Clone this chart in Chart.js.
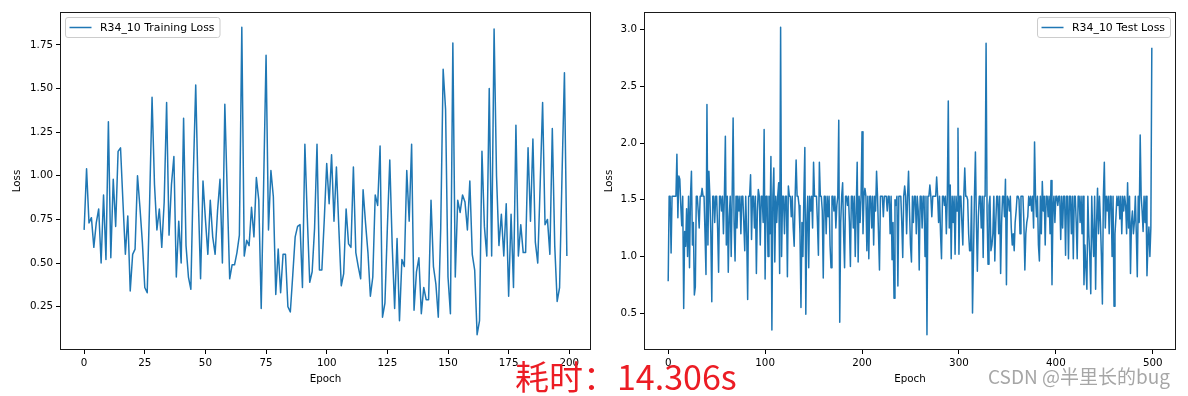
<!DOCTYPE html>
<html><head><meta charset="utf-8">
<script src="https://cdn.jsdelivr.net/npm/chart.js@4.4.1/dist/chart.umd.min.js"></script>
<style>
html,body{margin:0;padding:0;background:#fff;width:1188px;height:396px;overflow:hidden;}
body{position:relative;}
#w1{position:absolute;left:0;top:0;width:600px;height:396px;}
#w2{position:absolute;left:600px;top:0;width:588px;height:396px;}
#timeText{position:absolute;left:515px;top:356px;font-family:"Noto Sans CJK SC";font-size:34px;line-height:40px;color:#ec1c24;white-space:nowrap;}
#wm{position:absolute;left:988px;top:363px;font-family:"Noto Sans CJK SC";font-size:19px;line-height:26px;color:rgba(150,150,150,0.85);white-space:nowrap;}
</style></head>
<body>
<div id="w1"><canvas id="c1" width="600" height="396"></canvas></div>
<div id="w2"><canvas id="c2" width="588" height="396"></canvas></div>
<div id="timeText">耗时：14.306s</div>
<div id="wm">CSDN @半里长的bug</div>
<script>
// ---------- data ----------
const trainLabel = "R34_10 Training Loss";
const testLabel = "R34_10 Test Loss";
const xTitle = "Epoch";
const yTitle = "Loss";

const trainLoss = [
0.69,1.04,0.73,0.76,0.59,0.73,0.81,0.50,0.89,0.52,
1.31,0.53,0.98,0.71,1.14,1.16,0.85,0.55,0.77,0.34,
0.55,0.58,1.00,0.82,0.62,0.36,0.33,0.85,1.45,0.95,
0.69,0.81,0.59,0.85,1.42,0.66,0.95,1.11,0.42,0.74,
0.50,1.33,0.60,0.42,0.35,1.00,1.52,0.90,0.41,0.97,
0.75,0.55,0.86,0.65,0.55,0.80,0.98,0.50,1.41,0.90,
0.41,0.49,0.49,0.56,0.66,1.85,0.54,0.63,0.60,0.82,
0.65,0.99,0.86,0.24,0.95,1.69,0.69,1.03,0.88,0.32,
0.58,0.33,0.55,0.55,0.25,0.22,0.43,0.65,0.71,0.72,
0.36,1.18,0.76,0.39,0.45,0.70,1.18,0.46,0.46,0.75,
1.07,0.84,1.12,0.74,1.05,0.70,0.37,0.44,0.81,0.61,
0.59,1.05,0.56,0.48,0.41,0.92,0.73,0.56,0.31,0.42,
0.89,0.83,1.17,0.19,0.27,0.70,1.09,0.60,0.24,0.64,
0.17,0.52,0.48,1.03,0.74,1.18,0.23,0.45,0.53,0.21,
0.36,0.29,0.29,0.86,0.48,0.38,0.19,0.70,1.61,1.38,
0.42,0.21,1.76,0.42,0.86,0.79,0.89,0.85,0.69,0.97,
0.55,0.46,0.09,0.17,1.14,0.71,0.54,1.50,0.54,1.84,
1.00,0.60,0.78,0.54,0.84,0.31,0.78,0.36,1.29,0.54,
0.72,0.56,0.56,1.16,0.74,1.21,0.62,0.50,0.95,1.42,
0.72,0.75,0.55,1.27,0.60,0.28,0.36,1.00,1.59,0.54
];

const testLoss = [
0.78,1.53,1.53,1.03,1.53,1.53,1.53,1.53,1.53,1.90,1.34,1.71,1.68,1.45,1.27,1.53,0.54,1.22,1.09,1.42,1.00,1.53,0.90,1.53,1.75,
1.10,1.30,0.66,0.73,1.53,1.53,1.40,1.25,1.53,1.53,1.60,1.53,1.53,1.20,0.84,2.34,1.10,1.75,1.53,1.20,0.60,1.53,1.53,1.30,1.53,
1.53,1.25,0.86,1.53,1.53,1.40,1.53,1.20,1.53,2.06,1.10,1.53,0.86,1.35,1.53,1.00,1.53,2.22,1.30,0.96,1.53,1.25,1.53,1.40,1.53,
1.20,1.53,1.53,1.30,1.05,1.53,1.20,0.62,1.53,1.53,1.72,1.15,1.53,1.53,1.25,1.53,0.85,1.40,1.59,1.53,1.10,1.53,1.53,1.30,2.12,
0.80,1.53,1.53,1.00,1.53,1.20,1.88,0.35,1.53,1.78,0.95,1.53,1.30,1.53,1.65,0.85,3.02,1.00,1.53,1.53,1.20,1.53,1.53,0.82,1.62,
1.53,1.53,1.35,1.53,1.25,1.09,1.53,1.85,1.53,1.53,1.45,1.20,0.55,1.30,1.00,1.53,1.96,0.49,1.30,1.53,0.90,1.53,1.40,1.53,1.25,
1.83,1.53,1.53,1.53,1.30,1.01,1.83,1.53,1.53,1.40,0.81,1.53,1.53,1.20,1.53,1.35,1.53,1.10,0.90,1.53,1.53,1.40,1.53,1.25,1.45,
1.53,2.20,0.42,1.30,1.53,1.65,1.20,0.90,1.53,1.53,1.45,1.53,1.30,0.91,1.53,1.53,1.25,1.53,1.00,1.40,1.83,0.95,1.53,1.30,1.53,
2.10,1.20,1.53,1.60,1.53,1.05,1.53,0.98,1.53,1.53,1.25,1.53,1.10,1.53,1.40,1.75,1.53,1.20,0.88,1.53,1.53,1.53,1.35,1.53,1.53,
1.53,1.40,1.53,1.53,1.20,1.53,0.97,1.30,0.63,1.50,1.45,1.53,0.74,1.53,1.53,1.53,1.30,0.99,1.53,1.62,1.53,1.20,1.53,1.75,1.40,
1.10,0.95,1.53,1.30,1.53,1.53,1.20,1.53,1.40,0.88,1.53,1.53,1.25,1.53,1.53,1.00,1.53,0.31,1.53,1.53,1.63,1.53,1.35,1.53,1.53,
1.53,1.53,1.70,1.53,1.30,1.53,1.20,0.98,1.53,1.53,1.45,1.53,1.20,1.53,2.37,1.25,1.63,0.98,1.53,1.30,1.53,1.02,1.53,1.40,2.13,
1.02,1.53,1.53,1.30,1.10,1.53,1.78,1.53,1.53,1.50,1.20,1.05,1.05,1.53,0.50,1.00,1.53,1.92,1.30,0.87,1.35,1.53,1.53,1.25,1.53,
0.99,1.53,1.53,2.88,1.40,0.93,1.45,1.53,1.05,1.10,1.20,1.53,0.96,1.30,1.53,1.53,1.20,1.53,0.85,1.30,1.53,1.53,1.35,1.68,0.75,
1.53,1.50,1.40,1.53,1.25,1.10,1.20,1.05,1.30,1.40,1.53,1.53,1.50,1.20,1.53,1.53,1.53,1.30,0.88,1.20,1.30,1.35,1.53,1.45,1.53,
1.40,1.53,1.25,2.01,1.53,1.35,1.53,1.10,0.96,1.53,1.20,1.66,1.40,1.53,1.10,1.53,1.53,1.35,1.53,1.20,1.67,0.75,1.40,1.53,1.30,
1.53,1.53,1.45,1.53,1.53,1.15,1.53,1.25,1.53,1.53,1.01,1.53,1.53,0.98,1.53,1.53,1.20,1.53,0.98,1.53,1.53,1.30,0.98,1.53,1.53,
1.30,1.53,1.20,1.53,0.75,1.10,0.90,0.71,1.53,1.20,1.00,0.67,1.53,1.20,1.00,1.53,0.71,1.30,1.60,1.20,1.53,1.30,1.00,0.58,1.53,
1.83,1.25,1.53,1.40,1.53,1.20,1.53,1.53,1.00,1.53,0.56,1.20,1.35,1.53,1.45,1.53,1.33,1.53,1.20,1.53,1.40,1.53,1.45,1.20,1.65,
1.25,1.53,0.85,1.30,1.40,1.20,1.30,1.53,1.20,0.82,1.53,1.30,2.07,1.53,1.40,1.22,1.53,1.30,1.53,0.83,1.10,1.26,1.00,1.25,2.84
];

const trainXTicks = [0,25,50,75,100,125,150,175,200];
const trainXTickLabels = ["0","25","50","75","100","125","150","175","200"];
const trainYTicks = [0.25,0.50,0.75,1.00,1.25,1.50,1.75];
const trainYTickLabels = ["0.25","0.50","0.75","1.00","1.25","1.50","1.75"];
const testXTicks = [0,100,200,300,400,500];
const testXTickLabels = ["0","100","200","300","400","500"];
const testYTicks = [0.5,1.0,1.5,2.0,2.5,3.0];
const testYTickLabels = ["0.5","1.0","1.5","2.0","2.5","3.0"];

// ---------- drawing ----------
const LINE = '#1f77b4';
const FONT = 'DejaVu Sans';

function margins(arr){
  const mn = Math.min(...arr), mx = Math.max(...arr), r = mx - mn;
  return {min: mn - 0.05*r, max: mx + 0.05*r};
}

const framePlugin = {
  id: 'frameLegend',
  afterDraw(chart, args, opts){
    const {ctx, chartArea: a} = chart;
    ctx.save();
    ctx.strokeStyle = '#1a1a1a';
    ctx.lineWidth = 1;
    ctx.strokeRect(Math.round(a.left) + 0.5, Math.round(a.top) + 0.5,
                   Math.round(a.right - a.left) - 1, Math.round(a.bottom - a.top) - 1);
    const label = chart.data.datasets[0].label;
    ctx.font = '10.9px "' + FONT + '"';
    const tw = ctx.measureText(label).width;
    const bw = tw + 40, bh = 20;
    const bx = opts.side === 'left' ? a.left + 5.5 : a.right - 5.5 - bw;
    const by = a.top + 5.5;
    const r = 2.5;
    ctx.beginPath();
    ctx.moveTo(bx + r, by);
    ctx.lineTo(bx + bw - r, by); ctx.arcTo(bx + bw, by, bx + bw, by + r, r);
    ctx.lineTo(bx + bw, by + bh - r); ctx.arcTo(bx + bw, by + bh, bx + bw - r, by + bh, r);
    ctx.lineTo(bx + r, by + bh); ctx.arcTo(bx, by + bh, bx, by + bh - r, r);
    ctx.lineTo(bx, by + r); ctx.arcTo(bx, by, bx + r, by, r);
    ctx.closePath();
    ctx.fillStyle = 'rgba(255,255,255,0.8)';
    ctx.fill();
    ctx.strokeStyle = '#cccccc';
    ctx.lineWidth = 1;
    ctx.stroke();
    const ly = by + bh / 2;
    ctx.strokeStyle = LINE;
    ctx.lineWidth = 1.5;
    ctx.beginPath();
    ctx.moveTo(bx + 4, ly); ctx.lineTo(bx + 26, ly);
    ctx.stroke();
    ctx.fillStyle = '#000';
    ctx.textBaseline = 'middle';
    ctx.textAlign = 'left';
    ctx.fillText(label, bx + 34.5, ly + 0.5);
    ctx.restore();
  }
};

function makeChart(id, values, label, xTicks, xLabels, yTicks, yLabels, side, yAxisWidth, padRight, yTitlePad){
  const n = values.length;
  const pts = values.map((v, i) => ({x: i, y: v}));
  const ym = margins(values);
  const xr = n - 1;
  return new Chart(document.getElementById(id), {
    type: 'line',
    data: {datasets: [{label: label, data: pts, borderColor: LINE, borderWidth: 1.5,
      pointRadius: 0, tension: 0, fill: false, borderJoinStyle: 'round'}]},
    options: {
      responsive: false, animation: false, events: [],
      layout: {padding: {left: 0, top: 12, right: padRight, bottom: 0}},
      plugins: {legend: {display: false}, tooltip: {enabled: false}, frameLegend: {side: side}},
      scales: {
        x: {
          type: 'linear', min: -0.05 * xr, max: xr * 1.05,
          afterBuildTicks: s => { s.ticks = xTicks.map(v => ({value: v})); },
          afterFit: s => { s.height = 46; },
          ticks: {autoSkip: false, maxRotation: 0, padding: 3, color: '#000',
            font: {family: FONT, size: 10.3}, callback: (v, i) => xLabels[i]},
          grid: {drawOnChartArea: false, drawTicks: true, tickLength: 4, color: '#000', tickWidth: 1},
          border: {display: false},
          title: {display: true, text: xTitle, color: '#000', font: {family: FONT, size: 10.3, lineHeight: 1.2},
            padding: {top: 0, bottom: 10}}
        },
        y: {
          type: 'linear', min: ym.min, max: ym.max,
          afterBuildTicks: s => { s.ticks = yTicks.map(v => ({value: v})); },
          afterFit: s => { s.width = yAxisWidth; },
          ticks: {autoSkip: false, padding: 3, color: '#000',
            font: {family: FONT, size: 10.3}, callback: (v, i) => yLabels[i]},
          grid: {drawOnChartArea: false, drawTicks: true, tickLength: 4, color: '#000', tickWidth: 1},
          border: {display: false},
          title: {display: true, text: yTitle, color: '#000', font: {family: FONT, size: 10.3, lineHeight: 1.2},
            padding: {top: yTitlePad, bottom: 0}}
        }
      }
    },
    plugins: [framePlugin]
  });
}

makeChart('c1', trainLoss, trainLabel, trainXTicks, trainXTickLabels, trainYTicks, trainYTickLabels,
          'left', 60, 9, 11);
makeChart('c2', testLoss, testLabel, testXTicks, testXTickLabels, testYTicks, testYTickLabels,
          'right', 44, 12, 3);
</script>
</body></html>
